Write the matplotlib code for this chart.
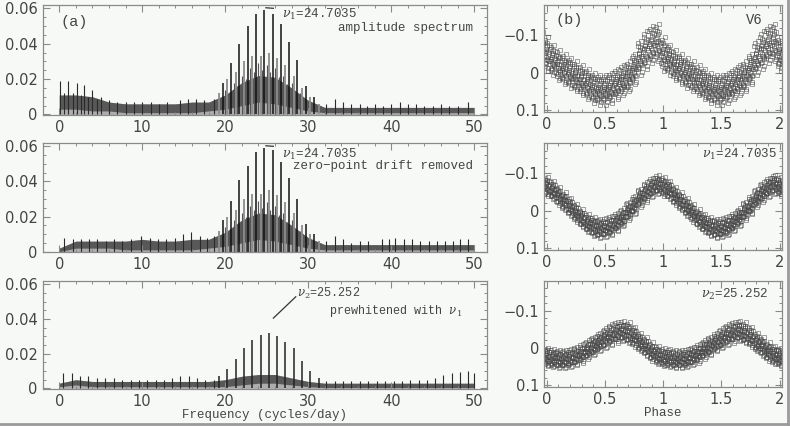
import numpy as np
import matplotlib
matplotlib.use("Agg")
import matplotlib.pyplot as plt
from matplotlib.lines import Line2D
from matplotlib.ticker import MultipleLocator

# ---- spectra (left column) ----
env_freq = [0, 2, 4, 6, 8, 10, 12, 14, 16, 18, 20, 22, 24, 26, 28, 30, 32, 34, 36, 38, 40, 42, 44, 46, 48, 50]

spec1_hi = [0.011, 0.011, 0.010, 0.007, 0.006, 0.006, 0.006, 0.006, 0.007, 0.007, 0.011, 0.018, 0.022,
            0.021, 0.015, 0.008, 0.004, 0.004, 0.004, 0.004, 0.004, 0.004, 0.004, 0.004, 0.004, 0.004]
spec1_lo = [0.003, 0.003, 0.002, 0.002, 0.001, 0.001, 0.001, 0.001, 0.001, 0.002, 0.003, 0.005, 0.007,
            0.006, 0.004, 0.002, 0.001, 0.001, 0.001, 0.001, 0.001, 0.001, 0.001, 0.001, 0.001, 0.001]
spec2_hi = [0.002, 0.006, 0.006, 0.006, 0.006, 0.007, 0.006, 0.006, 0.007, 0.007, 0.011, 0.018, 0.022,
            0.021, 0.015, 0.008, 0.004, 0.004, 0.004, 0.004, 0.004, 0.004, 0.004, 0.004, 0.004, 0.004]
spec2_lo = [0.000, 0.002, 0.002, 0.002, 0.001, 0.001, 0.001, 0.001, 0.001, 0.002, 0.003, 0.005, 0.007,
            0.006, 0.004, 0.002, 0.001, 0.001, 0.001, 0.001, 0.001, 0.001, 0.001, 0.001, 0.001, 0.001]
spec3_hi = [0.003, 0.005, 0.004, 0.004, 0.004, 0.004, 0.004, 0.004, 0.004, 0.004, 0.005, 0.007, 0.008,
            0.008, 0.006, 0.004, 0.003, 0.003, 0.003, 0.003, 0.003, 0.003, 0.003, 0.003, 0.003, 0.003]
spec3_lo = [0.001, 0.002, 0.001, 0.001, 0.001, 0.001, 0.001, 0.001, 0.001, 0.001, 0.001, 0.002, 0.003,
            0.003, 0.002, 0.001, 0.0005, 0.0005, 0.0005, 0.0005, 0.0005, 0.0005, 0.0005, 0.0005, 0.0005, 0.0005]

# nu1 = 24.7035 and its daily aliases
nu1_freq = [19.70, 20.70, 21.70, 22.70, 23.70, 24.70, 25.70, 26.70, 27.70, 28.70, 29.70, 30.70]
nu1_amp1 = [0.018, 0.029, 0.040, 0.050, 0.057, 0.059, 0.057, 0.051, 0.041, 0.031, 0.016, 0.010]
nu1_amp2 = [0.018, 0.029, 0.041, 0.049, 0.057, 0.059, 0.058, 0.051, 0.042, 0.030, 0.016, 0.010]

# nu2 = 25.252 and its daily aliases
nu2_freq = [19.25, 20.25, 21.25, 22.25, 23.25, 24.25, 25.25, 26.25, 27.25, 28.25, 29.25, 30.25, 31.25]
nu2_amp1 = [0.012, 0.020, 0.024, 0.030, 0.033, 0.033, 0.035, 0.032, 0.028, 0.022, 0.015, 0.010, 0.006]
nu2_amp2 = [0.012, 0.020, 0.024, 0.030, 0.033, 0.033, 0.035, 0.032, 0.028, 0.022, 0.015, 0.010, 0.006]
nu2_amp3 = [0.007, 0.011, 0.017, 0.023, 0.028, 0.031, 0.032, 0.030, 0.027, 0.023, 0.016, 0.010, 0.006]

# weaker peaks between the alias groups (panels a1, a2)
mid_freq = [20.0, 21.0, 22.0, 23.0, 24.0, 25.0, 26.0, 27.0, 28.0, 29.0, 20.45, 21.45, 22.45, 23.45, 24.45,
            25.45, 26.45, 27.45, 28.45]
mid_amp = [0.014, 0.018, 0.022, 0.026, 0.029, 0.028, 0.026, 0.022, 0.018, 0.012, 0.012, 0.016, 0.02, 0.024,
           0.025, 0.024, 0.021, 0.017, 0.013]

# smaller spikes outside the main group
spk1_freq = [0.1, 0.6, 1.1, 1.6, 2.1, 2.6, 3.0, 3.5, 4.0, 4.5, 5.0, 6.0, 7.0, 8.0, 9.0, 10.0, 11.0, 12.0, 13.0,
             14.5, 15.5, 16.5, 17.5, 18.6, 32.2, 33.2, 34.2, 35.2, 36.2, 37.1, 38.0, 39.0, 40.0, 41.0, 42.0,
             43.0, 44.0, 45.0, 46.0, 47.0, 48.0, 49.3]
spk1_amp = [0.019, 0.012, 0.0187, 0.012, 0.018, 0.011, 0.0168, 0.010, 0.014, 0.009, 0.010, 0.008, 0.007, 0.007,
            0.007, 0.007, 0.007, 0.006, 0.007, 0.008, 0.009, 0.009, 0.008, 0.009, 0.006, 0.009, 0.007, 0.006,
            0.006, 0.005, 0.006, 0.005, 0.006, 0.007, 0.006, 0.006, 0.005, 0.005, 0.006, 0.005, 0.005, 0.007]
spk2_freq = [0.6, 1.6, 2.6, 3.6, 4.6, 5.6, 6.6, 7.6, 8.6, 9.9, 10.9, 11.9, 12.9, 13.9, 14.9, 15.9, 16.9, 17.8,
             18.7, 32.2, 33.2, 34.2, 35.2, 36.2, 37.2, 38.9, 39.7, 40.5, 41.5, 42.5, 43.5, 44.5, 45.5, 46.5,
             47.4, 48.3, 49.3]
spk2_amp = [0.008, 0.007, 0.007, 0.007, 0.007, 0.006, 0.007, 0.006, 0.007, 0.009, 0.008, 0.007, 0.007, 0.008,
            0.010, 0.011, 0.009, 0.008, 0.009, 0.006, 0.009, 0.007, 0.005, 0.006, 0.006, 0.007, 0.007, 0.008,
            0.007, 0.007, 0.006, 0.006, 0.006, 0.006, 0.006, 0.007, 0.007]
spk3_freq = [0.5, 1.5, 2.5, 3.5, 4.5, 5.5, 6.6, 7.6, 8.6, 9.6, 10.6, 11.6, 12.6, 13.6, 14.6, 15.6, 16.6,
             17.6, 18.6, 32.2, 33.2, 34.2, 35.2, 36.2, 37.2, 38.3, 39.3, 40.3, 41.3, 42.3, 43.3, 44.3, 45.3,
             46.3, 47.3, 48.3, 49.3, 50.0]
spk3_amp = [0.009, 0.009, 0.007, 0.007, 0.006, 0.006, 0.006, 0.005, 0.005, 0.005, 0.005, 0.005, 0.005, 0.006,
            0.007, 0.007, 0.006, 0.005, 0.005, 0.004, 0.004, 0.004, 0.004, 0.004, 0.004, 0.004, 0.004, 0.004,
            0.004, 0.005, 0.005, 0.005, 0.006, 0.0075, 0.009, 0.0095, 0.010, 0.009]

# ---- phase diagrams (right column), read every 0.05 in phase ----
phase = [0.00, 0.05, 0.10, 0.15, 0.20, 0.25, 0.30, 0.35, 0.40, 0.45,
         0.50, 0.55, 0.60, 0.65, 0.70, 0.75, 0.80, 0.85, 0.90, 0.95]
mag_v6 = [-0.05, -0.035, -0.02, -0.01, 0.00, 0.01, 0.02, 0.03, 0.04, 0.045,
          0.045, 0.04, 0.03, 0.02, 0.01, -0.01, -0.04, -0.06, -0.075, -0.08]
wid_v6 = [0.045, 0.04, 0.04, 0.04, 0.04, 0.04, 0.04, 0.04, 0.04, 0.04,
          0.04, 0.04, 0.04, 0.04, 0.04, 0.04, 0.045, 0.05, 0.05, 0.05]
mag_nu1 = [-0.065, -0.055, -0.04, -0.025, -0.01, 0.005, 0.02, 0.033, 0.042, 0.047,
           0.045, 0.04, 0.03, 0.018, 0.0, -0.015, -0.035, -0.05, -0.062, -0.07]
wid_nu1 = [0.025, 0.024, 0.024, 0.024, 0.024, 0.024, 0.024, 0.024, 0.026, 0.026,
           0.026, 0.026, 0.024, 0.024, 0.024, 0.024, 0.024, 0.026, 0.026, 0.026]
mag_nu2 = [0.025, 0.028, 0.03, 0.03, 0.028, 0.022, 0.015, 0.005, -0.005, -0.015,
           -0.025, -0.035, -0.042, -0.045, -0.04, -0.03, -0.015, -0.003, 0.01, 0.02]
wid_nu2 = [0.025, 0.025, 0.025, 0.025, 0.025, 0.025, 0.025, 0.025, 0.025, 0.025,
           0.027, 0.028, 0.028, 0.028, 0.028, 0.027, 0.025, 0.025, 0.025, 0.025]

freq_ticks = [0, 10, 20, 30, 40, 50]
amp_ticks = [0, 0.02, 0.04, 0.06]
amp_labels = ["0", "0.02", "0.04", "0.06"]
phase_ticks = [0, 0.5, 1, 1.5, 2]
phase_labels = ["0", "0.5", "1", "1.5", "2"]
mag_ticks = [-0.1, 0, 0.1]
mag_labels = ["\u22120.1", "0", "0.1"]

plt.rcParams['font.family'] = 'DejaVu Sans'
plt.rcParams['mathtext.fontset'] = 'dejavuserif'
BG = '#f7f9f7'
TXT = '#444444'
SPINE = '#8a8a8a'
MONO = 'Liberation Mono'

fig = plt.figure(figsize=(7.9, 4.26), dpi=100, facecolor=BG)


def style_axes(ax):
    ax.set_facecolor(BG)
    for s in ax.spines.values():
        s.set_color(SPINE)
        s.set_linewidth(0.9)
    ax.tick_params(which='both', direction='in', top=True, right=True, colors=SPINE,
                   labelcolor=TXT, labelsize=10.5)
    ax.tick_params(which='major', length=5, width=0.8)
    ax.tick_params(which='minor', length=2.5, width=0.7)


left_pos = [[0.054, 0.730, 0.562, 0.258], [0.054, 0.408, 0.562, 0.256], [0.054, 0.087, 0.562, 0.253]]
right_pos = [[0.689, 0.737, 0.301, 0.251], [0.689, 0.413, 0.301, 0.251], [0.689, 0.092, 0.301, 0.249]]

spectra = [
    (spec1_hi, spec1_lo, nu1_amp1, nu2_amp1, spk1_freq, spk1_amp),
    (spec2_hi, spec2_lo, nu1_amp2, nu2_amp2, spk2_freq, spk2_amp),
    (spec3_hi, spec3_lo, None, nu2_amp3, spk3_freq, spk3_amp),
]

left_axes = []
for pos, (hi, lo, a1, a2, sf, sa) in zip(left_pos, spectra):
    ax = fig.add_axes(pos)
    style_axes(ax)
    ax.fill_between(env_freq, 0, hi, color='#9a9a9a', lw=0, alpha=0.8)
    ax.fill_between(env_freq, lo, hi, color='#3c3c3c', lw=0, alpha=0.75)
    ax.vlines(sf, 0, sa, color='#2a2a2a', lw=0.8)
    if a1 is not None:
        ax.vlines(mid_freq, 0, mid_amp, color='#555555', lw=0.8)
        ax.vlines(nu2_freq, 0, a2, color='#8c8c8c', lw=1.3)
        ax.vlines(nu1_freq, 0, a1, color='#111111', lw=1.1)
    else:
        ax.vlines(nu2_freq, 0, a2, color='#222222', lw=1.1)
    ax.set_xlim(-2, 51.5)
    ax.set_ylim(-0.0003, 0.0618)
    ax.set_xticks(freq_ticks)
    ax.set_yticks(amp_ticks)
    ax.set_yticklabels(amp_labels)
    ax.xaxis.set_minor_locator(MultipleLocator(2))
    ax.yaxis.set_minor_locator(MultipleLocator(0.005))
    left_axes.append(ax)

ax1, ax2, ax3 = left_axes
ax1.text(0.2, 0.0525, "(a)", fontsize=11, color=TXT, va='center', family=MONO)
for ax, y_lab, y_dash, note in [(ax1, 0.0565, 0.0603, "amplitude spectrum"),
                                (ax2, 0.0555, 0.0603, "zero\u2212point drift removed")]:
    ax.plot([24.9, 25.8], [y_dash, y_dash - 0.0003], color='#333333', lw=0.9)
    ax.text(26.9, y_lab, r"$\nu_1$=24.7035", fontsize=9, color=TXT, va='center', family=MONO)
    ax.text(49.8, 0.0488, note, fontsize=9, color=TXT, va='center', ha='right', family=MONO)
ax3.plot([28.5, 25.8], [0.0528, 0.0405], color='#333333', lw=0.9)
ax3.text(28.6, 0.0548, r"$\nu_2$=25.252", fontsize=8.5, color=TXT, va='center', family=MONO)
ax3.text(48.6, 0.0445, r"prewhitened with $\nu_1$", fontsize=8.5, color=TXT, va='center', ha='right',
         family=MONO)
ax3.set_xlabel("Frequency (cycles/day)", fontsize=9, color=TXT, family=MONO, labelpad=0)

# scatter layout inside each phase bin (spread in units of the read half-width)
lev = [-1.0, -0.7, -0.45, -0.2, 0.0, 0.2, 0.45, 0.7, 1.0, -0.85, -0.55, -0.3, -0.1, 0.1, 0.3, 0.55, 0.85,
       -0.62, -0.05, 0.38, 0.62]
dxs = [0.012, -0.018, 0.004, -0.008, 0.02, -0.003, 0.016, -0.014, 0.008,
       -0.012, 0.018, -0.004, 0.009, -0.02, 0.003, -0.016, 0.014, 0.001, -0.011, 0.011, -0.006]

curves = [(mag_v6, wid_v6), (mag_nu1, wid_nu1), (mag_nu2, wid_nu2)]
right_axes = []
for pos, (m, w) in zip(right_pos, curves):
    ax = fig.add_axes(pos)
    style_axes(ax)
    for cyc in [-1, 0, 1, 2]:
        for k, dx in zip(lev, dxs):
            xs = [p + cyc + dx for p in phase]
            ys = [mi + k * wi for mi, wi in zip(m, w)]
            ax.plot(xs, ys, ls='none', marker='s', ms=3.0, mfc='none', mec='#444444',
                    mew=0.5, alpha=0.7)
    ax.set_xlim(-0.02, 2.02)
    ax.set_ylim(0.105, -0.18)
    ax.set_xticks(phase_ticks)
    ax.set_xticklabels(phase_labels)
    ax.set_yticks(mag_ticks)
    ax.set_yticklabels(mag_labels)
    ax.xaxis.set_minor_locator(MultipleLocator(0.1))
    ax.yaxis.set_minor_locator(MultipleLocator(0.02))
    right_axes.append(ax)

r1, r2, r3 = right_axes
r1.text(0.08, -0.141, "(b)", fontsize=11, color=TXT, va='center', family=MONO)
r1.text(1.71, -0.141, "V6", fontsize=10, color=TXT, va='center', family=MONO)
r2.text(1.97, -0.149, r"$\nu_1$=24.7035", fontsize=9, color=TXT, va='center', ha='right', family=MONO)
r3.text(1.90, -0.144, r"$\nu_2$=25.252", fontsize=9, color=TXT, va='center', ha='right', family=MONO)
r3.set_xlabel("Phase", fontsize=9, color=TXT, family=MONO, labelpad=0)

# grey frame on the right and bottom edges of the original image
fig.add_artist(Line2D([0.997, 0.997], [0.004, 1.0], color='#9a9a9a', lw=2))
fig.add_artist(Line2D([0.0, 0.997], [0.004, 0.004], color='#9a9a9a', lw=2))

fig.savefig("out.png", dpi=100, facecolor=BG)
